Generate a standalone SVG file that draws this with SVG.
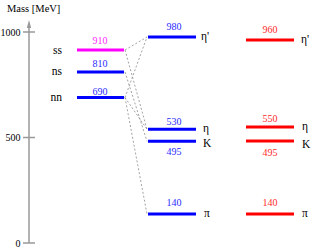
<svg xmlns="http://www.w3.org/2000/svg" width="312" height="247" viewBox="0 0 312 247">
<style>
.num{font-size:10px;text-anchor:middle;}
.lbl{font-size:11.5px;fill:#000;}
.tick{font-size:10px;text-anchor:end;fill:#000;}
.b{stroke:#0000ff;stroke-width:3;}
.r{stroke:#ff0000;stroke-width:3;}
.m{stroke:#ff00ff;stroke-width:3;}
.tb{fill:#2a2aff;}
.tr{fill:#ff2a2a;}
.tm{fill:#ff2aff;}
.axis{stroke:#999;stroke-width:1.5;fill:none;}
.dash{stroke:#8a8a8a;stroke-width:0.8;stroke-dasharray:2,2;fill:none;}
</style>
<rect width="312" height="247" fill="#fff"/>
<g font-family="'Liberation Serif', 'Times New Roman', serif">
<g id="axis">
<text x="7" y="12" font-size="10.5">Mass [MeV]</text>
<line class="axis" x1="29" y1="243" x2="29" y2="26"/>
<polygon points="29,20 26.8,28 31.2,28" fill="#999"/>
<line class="axis" x1="23" y1="32" x2="35" y2="32"/>
<line class="axis" x1="23" y1="137.5" x2="35" y2="137.5"/>
<line class="axis" x1="23" y1="243" x2="35" y2="243"/>
<text class="tick" x="20.5" y="35.5">1000</text>
<text class="tick" x="20.5" y="141">500</text>
<text class="tick" x="20.5" y="246.5">0</text>
</g>
<g id="connectors">
<line class="dash" x1="125" y1="50" x2="147" y2="37"/>
<line class="dash" x1="125" y1="50" x2="147" y2="129.3"/>
<line class="dash" x1="125" y1="72" x2="147" y2="141.3"/>
<line class="dash" x1="125" y1="97.5" x2="147" y2="37"/>
<line class="dash" x1="125" y1="97.5" x2="147" y2="129.3"/>
<line class="dash" x1="125" y1="97.5" x2="147" y2="214"/>
</g>
<g id="ss">
<line class="m" x1="77" y1="50" x2="124" y2="50"/>
<text class="num tm" x="100" y="43.5">910</text>
<text class="lbl" x="62" y="53.5" text-anchor="end">ss</text>
</g>
<g id="ns">
<line class="b" x1="77" y1="72" x2="124" y2="72"/>
<text class="num tb" x="100" y="67">810</text>
<text class="lbl" x="62" y="75" text-anchor="end">ns</text>
</g>
<g id="nn">
<line class="b" x1="77" y1="97.5" x2="124" y2="97.5"/>
<text class="num tb" x="100" y="94.5">690</text>
<text class="lbl" x="62" y="101" text-anchor="end">nn</text>
</g>
<g id="eta-prime-model">
<line class="b" x1="148" y1="37" x2="196" y2="37"/>
<text class="num tb" x="174" y="30">980</text>
<text class="lbl" x="201" y="40">η'</text>
</g>
<g id="eta-model">
<line class="b" x1="148" y1="129.3" x2="196" y2="129.3"/>
<text class="num tb" x="174" y="124.5">530</text>
<text class="lbl" x="203" y="132">η</text>
</g>
<g id="K-model">
<line class="b" x1="148" y1="141.3" x2="196" y2="141.3"/>
<text class="num tb" x="174" y="155">495</text>
<text class="lbl" x="203" y="147">K</text>
</g>
<g id="pi-model">
<line class="b" x1="148" y1="214" x2="196" y2="214"/>
<text class="num tb" x="174" y="206">140</text>
<text class="lbl" x="204" y="217">π</text>
</g>
<g id="eta-prime-exp">
<line class="r" x1="246" y1="40" x2="294" y2="40"/>
<text class="num tr" x="270" y="32.5">960</text>
<text class="lbl" x="301" y="43">η'</text>
</g>
<g id="eta-exp">
<line class="r" x1="246" y1="127" x2="294" y2="127"/>
<text class="num tr" x="270" y="122">550</text>
<text class="lbl" x="302" y="130">η</text>
</g>
<g id="K-exp">
<line class="r" x1="246" y1="141" x2="294" y2="141"/>
<text class="num tr" x="270" y="156">495</text>
<text class="lbl" x="302" y="148">K</text>
</g>
<g id="pi-exp">
<line class="r" x1="246" y1="214" x2="294" y2="214"/>
<text class="num tr" x="270" y="206">140</text>
<text class="lbl" x="302" y="217">π</text>
</g>
</g>
</svg>
